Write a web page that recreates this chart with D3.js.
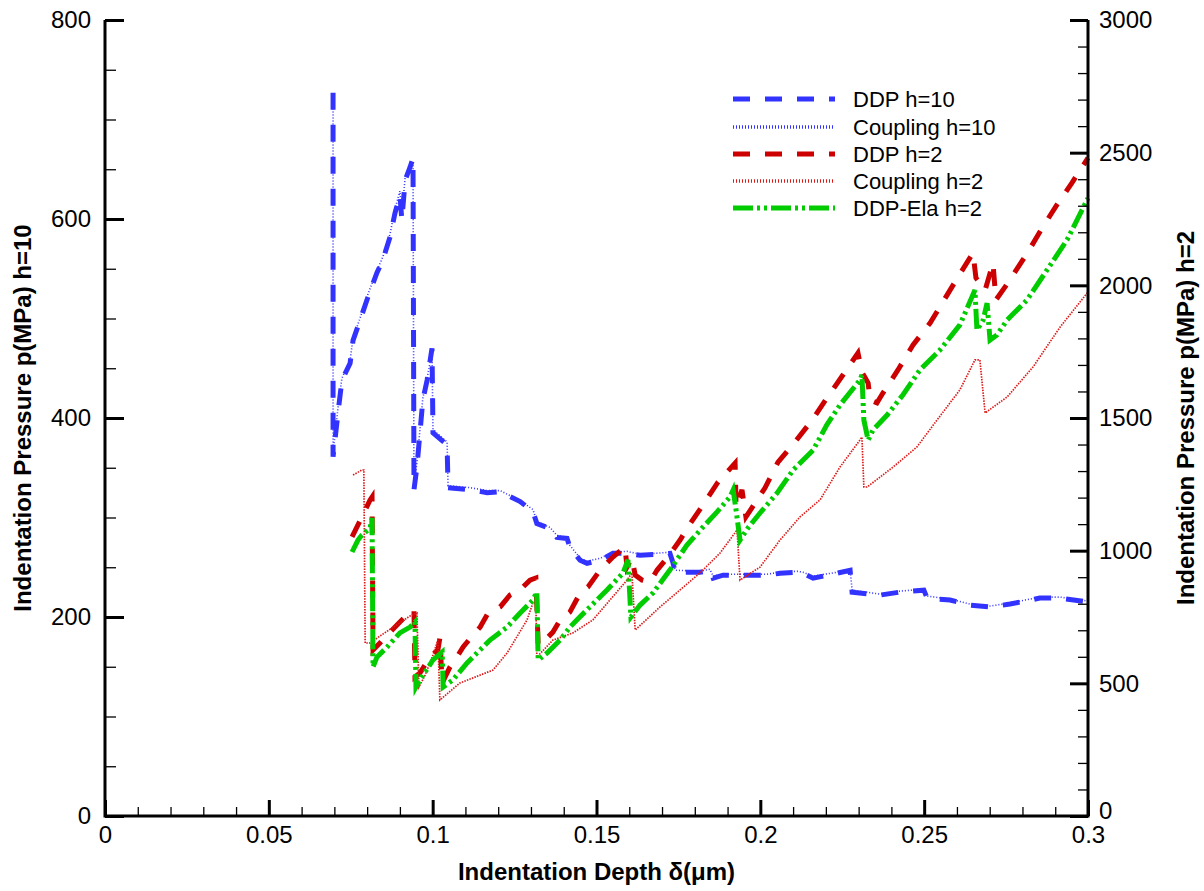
<!DOCTYPE html>
<html><head><meta charset="utf-8">
<script src="https://cdn.jsdelivr.net/npm/d3@7"></script>
<style>body{margin:0;background:#fff}svg{display:block}</style>
</head><body><svg id="c" width="1204" height="891"></svg>
<script>
// ---- data ----
const xTicks = [0, 0.05, 0.1, 0.15, 0.2, 0.25, 0.3];
const xTickLabels = ["0", "0.05", "0.1", "0.15", "0.2", "0.25", "0.3"];
const xMinorTicks = [0.01,0.02,0.03,0.04,0.06,0.07,0.08,0.09,0.11,0.12,0.13,0.14,0.16,0.17,0.18,0.19,0.21,0.22,0.23,0.24,0.26,0.27,0.28,0.29];
const leftTicks = [0, 200, 400, 600, 800];
const leftMinorTicks = [50,100,150,250,300,350,450,500,550,650,700,750];
const rightTicks = [0, 500, 1000, 1500, 2000, 2500, 3000];
const rightMinorTicks = [100,200,300,400,600,700,800,900,1100,1200,1300,1400,1600,1700,1800,1900,2100,2200,2300,2400,2600,2700,2800,2900];

const seriesNames = ["DDP h=10", "Coupling h=10", "DDP h=2", "Coupling h=2", "DDP-Ela h=2"];

const ddpH10X = [0.0696,0.0696,0.0711,0.0723,0.0748,0.0757,0.0778,0.0803,0.0830,0.0848,0.0870,0.0885,0.0900,0.0906,0.0916,0.0931,0.0940,0.0943,0.0952,0.0970,0.0983,0.0998,0.1001,0.1044,0.1047,0.1114,0.1166,0.1206,0.1236,0.1267,0.1306,0.1318,0.1358,0.1379,0.1410,0.1419,0.1450,0.1471,0.1511,0.1550,0.1593,0.1633,0.1724,0.1733,0.1740,0.1816,0.1846,0.1856,0.1886,0.2020,0.2060,0.2112,0.2130,0.2161,0.2234,0.2274,0.2280,0.2365,0.2426,0.2499,0.2509,0.2579,0.2640,0.2701,0.2762,0.2853,0.2915,0.3000];
const ddpH10Y = [727,361,405,438,455,478,498,522,546,559,582,606,624,599,639,652,661,328,351,418,438,470,385,373,330,328,325,326,321,316,306,294,289,280,279,270,257,254,257,264,264,262,264,255,245,245,247,239,242,242,244,245,244,239,244,247,225,222,225,227,219,217,212,210,213,219,219,215];
const couplingH10Y = [720,365,410,440,458,480,500,525,548,562,585,610,628,603,642,655,658,332,355,420,440,466,388,376,332,330,327,327,322,317,308,296,290,282,280,272,259,256,259,265,266,263,265,257,247,246,248,241,243,243,245,246,245,241,245,248,227,223,226,228,221,218,213,211,214,220,220,216];

const ddpH2X = [0.0754,0.0784,0.0809,0.0815,0.0818,0.0839,0.0870,0.0900,0.0931,0.0943,0.0946,0.0961,0.0992,0.1016,0.1022,0.1029,0.1053,0.1074,0.1093,0.1123,0.1145,0.1169,0.1206,0.1236,0.1267,0.1297,0.1315,0.1322,0.1343,0.1367,0.1389,0.1419,0.1450,0.1474,0.1511,0.1550,0.1587,0.1593,0.1608,0.1618,0.1639,0.1663,0.1685,0.1718,0.1755,0.1779,0.1825,0.1871,0.1923,0.1926,0.1944,0.1956,0.2014,0.2054,0.2106,0.2158,0.2203,0.2252,0.2298,0.2310,0.2329,0.2335,0.2356,0.2374,0.2420,0.2466,0.2518,0.2557,0.2603,0.2649,0.2658,0.2686,0.2710,0.2719,0.2747,0.2771,0.2817,0.2860,0.2905,0.2951,0.3000];
const ddpH2Y = [1052,1127,1191,1202,626,652,693,731,769,776,524,539,599,626,671,501,562,599,637,682,712,765,788,833,852,889,897,644,663,693,739,769,840,863,927,976,1014,938,972,908,889,882,927,976,1040,1089,1172,1259,1330,1165,1229,1127,1236,1334,1410,1492,1575,1662,1745,1673,1632,1568,1557,1594,1681,1775,1858,1937,2031,2122,2028,1982,2084,1945,1994,2039,2126,2216,2303,2386,2480];

const couplingH2X = [0.0757,0.0784,0.0790,0.0794,0.0809,0.0839,0.0885,0.0931,0.0952,0.0958,0.0977,0.1001,0.1016,0.1022,0.1083,0.1184,0.1227,0.1288,0.1306,0.1315,0.1318,0.1367,0.1428,0.1489,0.1541,0.1593,0.1608,0.1618,0.1694,0.1755,0.1816,0.1877,0.1929,0.1938,0.1999,0.2060,0.2121,0.2182,0.2243,0.2304,0.2310,0.2316,0.2326,0.2405,0.2478,0.2539,0.2609,0.2655,0.2670,0.2686,0.2753,0.2832,0.2915,0.3000];
const couplingH2Y = [1285,1304,1304,652,652,678,716,754,765,486,531,607,663,437,501,550,614,739,803,803,599,663,690,739,814,889,916,701,788,852,916,991,1078,889,938,1040,1127,1191,1315,1417,1428,1240,1240,1315,1391,1492,1606,1719,1719,1519,1579,1692,1843,1975];

const ddpElaH2X = [0.0754,0.0772,0.0784,0.0809,0.0815,0.0818,0.0830,0.0861,0.0900,0.0931,0.0946,0.0949,0.0961,0.1001,0.1029,0.1032,0.1062,0.1105,0.1135,0.1175,0.1227,0.1267,0.1306,0.1318,0.1322,0.1349,0.1389,0.1419,0.1440,0.1480,0.1532,0.1581,0.1596,0.1605,0.1633,0.1672,0.1724,0.1776,0.1825,0.1868,0.1907,0.1917,0.1926,0.1938,0.1962,0.1999,0.2051,0.2100,0.2161,0.2203,0.2243,0.2304,0.2310,0.2316,0.2329,0.2344,0.2387,0.2435,0.2487,0.2548,0.2609,0.2655,0.2661,0.2680,0.2692,0.2701,0.2722,0.2753,0.2814,0.2875,0.2936,0.3000];
const ddpElaH2Y = [995,1040,1059,1085,1123,562,599,637,690,712,731,486,513,588,618,486,513,577,614,663,712,765,814,844,588,614,663,712,739,788,852,916,965,750,795,840,927,1021,1089,1146,1202,1229,1153,1040,1085,1142,1217,1304,1379,1474,1549,1643,1662,1492,1417,1455,1511,1587,1681,1756,1851,1982,1832,1869,1933,1794,1813,1869,1945,2058,2171,2329];

// ---- chart ----
const svg = d3.select("#c");
const FONT = "'Liberation Sans', Arial, sans-serif";
const L = 105, R = 1088, T = 20, B = 816;
const x = d3.scaleLinear().domain([0, 0.3]).range([L, R]);
const yL = d3.scaleLinear().domain([0, 800]).range([B, T]);
const yR = d3.scaleLinear().domain([0, 3000]).range([B, T]);

const styles = [
  {color:"#3333ff", width:5, dash:"17,15", axis:"L"},
  {color:"#3333ff", width:1.6, dash:"1,2", axis:"L"},
  {color:"#cc0000", width:5, dash:"17,15", axis:"R"},
  {color:"#dd1a1a", width:1.7, dash:"1.5,1.2", axis:"R"},
  {color:"#00cc00", width:5, dash:"20,4,3,4,3,4", axis:"R"}
];
const seriesData = [
  d3.zip(ddpH10X, ddpH10Y),
  d3.zip(ddpH10X, couplingH10Y),
  d3.zip(ddpH2X, ddpH2Y),
  d3.zip(couplingH2X, couplingH2Y),
  d3.zip(ddpElaH2X, ddpElaH2Y)
];

const plot = svg.append("g");
seriesData.forEach((d, i) => {
  const st = styles[i];
  const ys = st.axis === "L" ? yL : yR;
  const line = d3.line().x(p => x(p[0])).y(p => ys(p[1]));
  plot.append("path").datum(d)
    .attr("d", line)
    .attr("fill", "none")
    .attr("stroke", st.color)
    .attr("stroke-width", st.width)
    .attr("stroke-dasharray", st.dash)
    .attr("stroke-linejoin", "miter");
});

function styleAxis(g, major) {
  g.attr("font-family", FONT).attr("font-size", 24);
  g.select(".domain").remove();
  g.selectAll(".tick line").attr("stroke", "#000").attr("stroke-width", major ? 3 : 1.3);
  g.selectAll(".tick text").attr("fill", "#000");
}

// minor ticks
svg.append("g").attr("transform", `translate(0,${B})`)
  .call(d3.axisBottom(x).tickValues(xMinorTicks).tickSize(-9).tickSizeOuter(0).tickFormat(""))
  .call(g => styleAxis(g, false));
svg.append("g").attr("transform", `translate(${L},0)`)
  .call(d3.axisLeft(yL).tickValues(leftMinorTicks).tickSize(-11).tickSizeOuter(0).tickFormat(""))
  .call(g => styleAxis(g, false));
svg.append("g").attr("transform", `translate(${R},0)`)
  .call(d3.axisRight(yR).tickValues(rightMinorTicks).tickSize(-10).tickSizeOuter(0).tickFormat(""))
  .call(g => styleAxis(g, false));

// major ticks
svg.append("g").attr("transform", `translate(0,${B})`)
  .call(d3.axisBottom(x).tickValues(xTicks).tickSize(-16).tickSizeOuter(0).tickPadding(10)
    .tickFormat((d, i) => xTickLabels[i]))
  .call(g => styleAxis(g, true));
svg.append("g").attr("transform", `translate(${L},0)`)
  .call(d3.axisLeft(yL).tickValues(leftTicks).tickSize(-19).tickSizeOuter(0).tickPadding(14)
    .tickFormat(d3.format("d")))
  .call(g => styleAxis(g, true));
svg.append("g").attr("transform", `translate(${R},0)`)
  .call(d3.axisRight(yR).tickValues(rightTicks).tickSize(-18).tickSizeOuter(0).tickPadding(11)
    .tickFormat(d3.format("d")))
  .call(g => styleAxis(g, true))
  .call(g => g.selectAll(".tick text").filter(d => d === 0).attr("dy", "0.1em"));

// axis lines
const frame = svg.append("g").attr("stroke", "#000").attr("stroke-width", 3).attr("fill", "none");
frame.append("path").attr("d", `M${L},${T}V${B}H${R}V${T}`).attr("stroke-linejoin", "miter");

// titles
svg.append("text").attr("x", (L + R) / 2).attr("y", 880)
  .attr("text-anchor", "middle").attr("font-family", FONT).attr("font-weight", "bold")
  .attr("font-size", 24).text("Indentation Depth δ(μm)");
svg.append("text").attr("transform", `translate(31,${(T + B) / 2}) rotate(-90)`)
  .attr("text-anchor", "middle").attr("font-family", FONT).attr("font-weight", "bold")
  .attr("font-size", 24).text("Indentation Pressure p(MPa) h=10");
svg.append("text").attr("transform", `translate(1194,${(T + B) / 2}) rotate(-90)`)
  .attr("text-anchor", "middle").attr("font-family", FONT).attr("font-weight", "bold")
  .attr("font-size", 24).text("Indentation Pressure p(MPa) h=2");

// legend
const legendY = [99, 127, 154, 181, 208];
const lg = svg.append("g");
seriesNames.forEach((name, i) => {
  const st = styles[i];
  lg.append("line").attr("x1", 733).attr("x2", 835).attr("y1", legendY[i]).attr("y2", legendY[i])
    .attr("stroke", st.color).attr("stroke-width", st.width < 2 ? 3.5 : 5)
    .attr("stroke-dasharray", st.width < 2 ? "1,2" : st.dash);
  lg.append("text").attr("x", 853).attr("y", legendY[i]).attr("dy", "0.35em")
    .attr("font-family", FONT).attr("font-size", 22).text(name);
});
</script></body></html>
